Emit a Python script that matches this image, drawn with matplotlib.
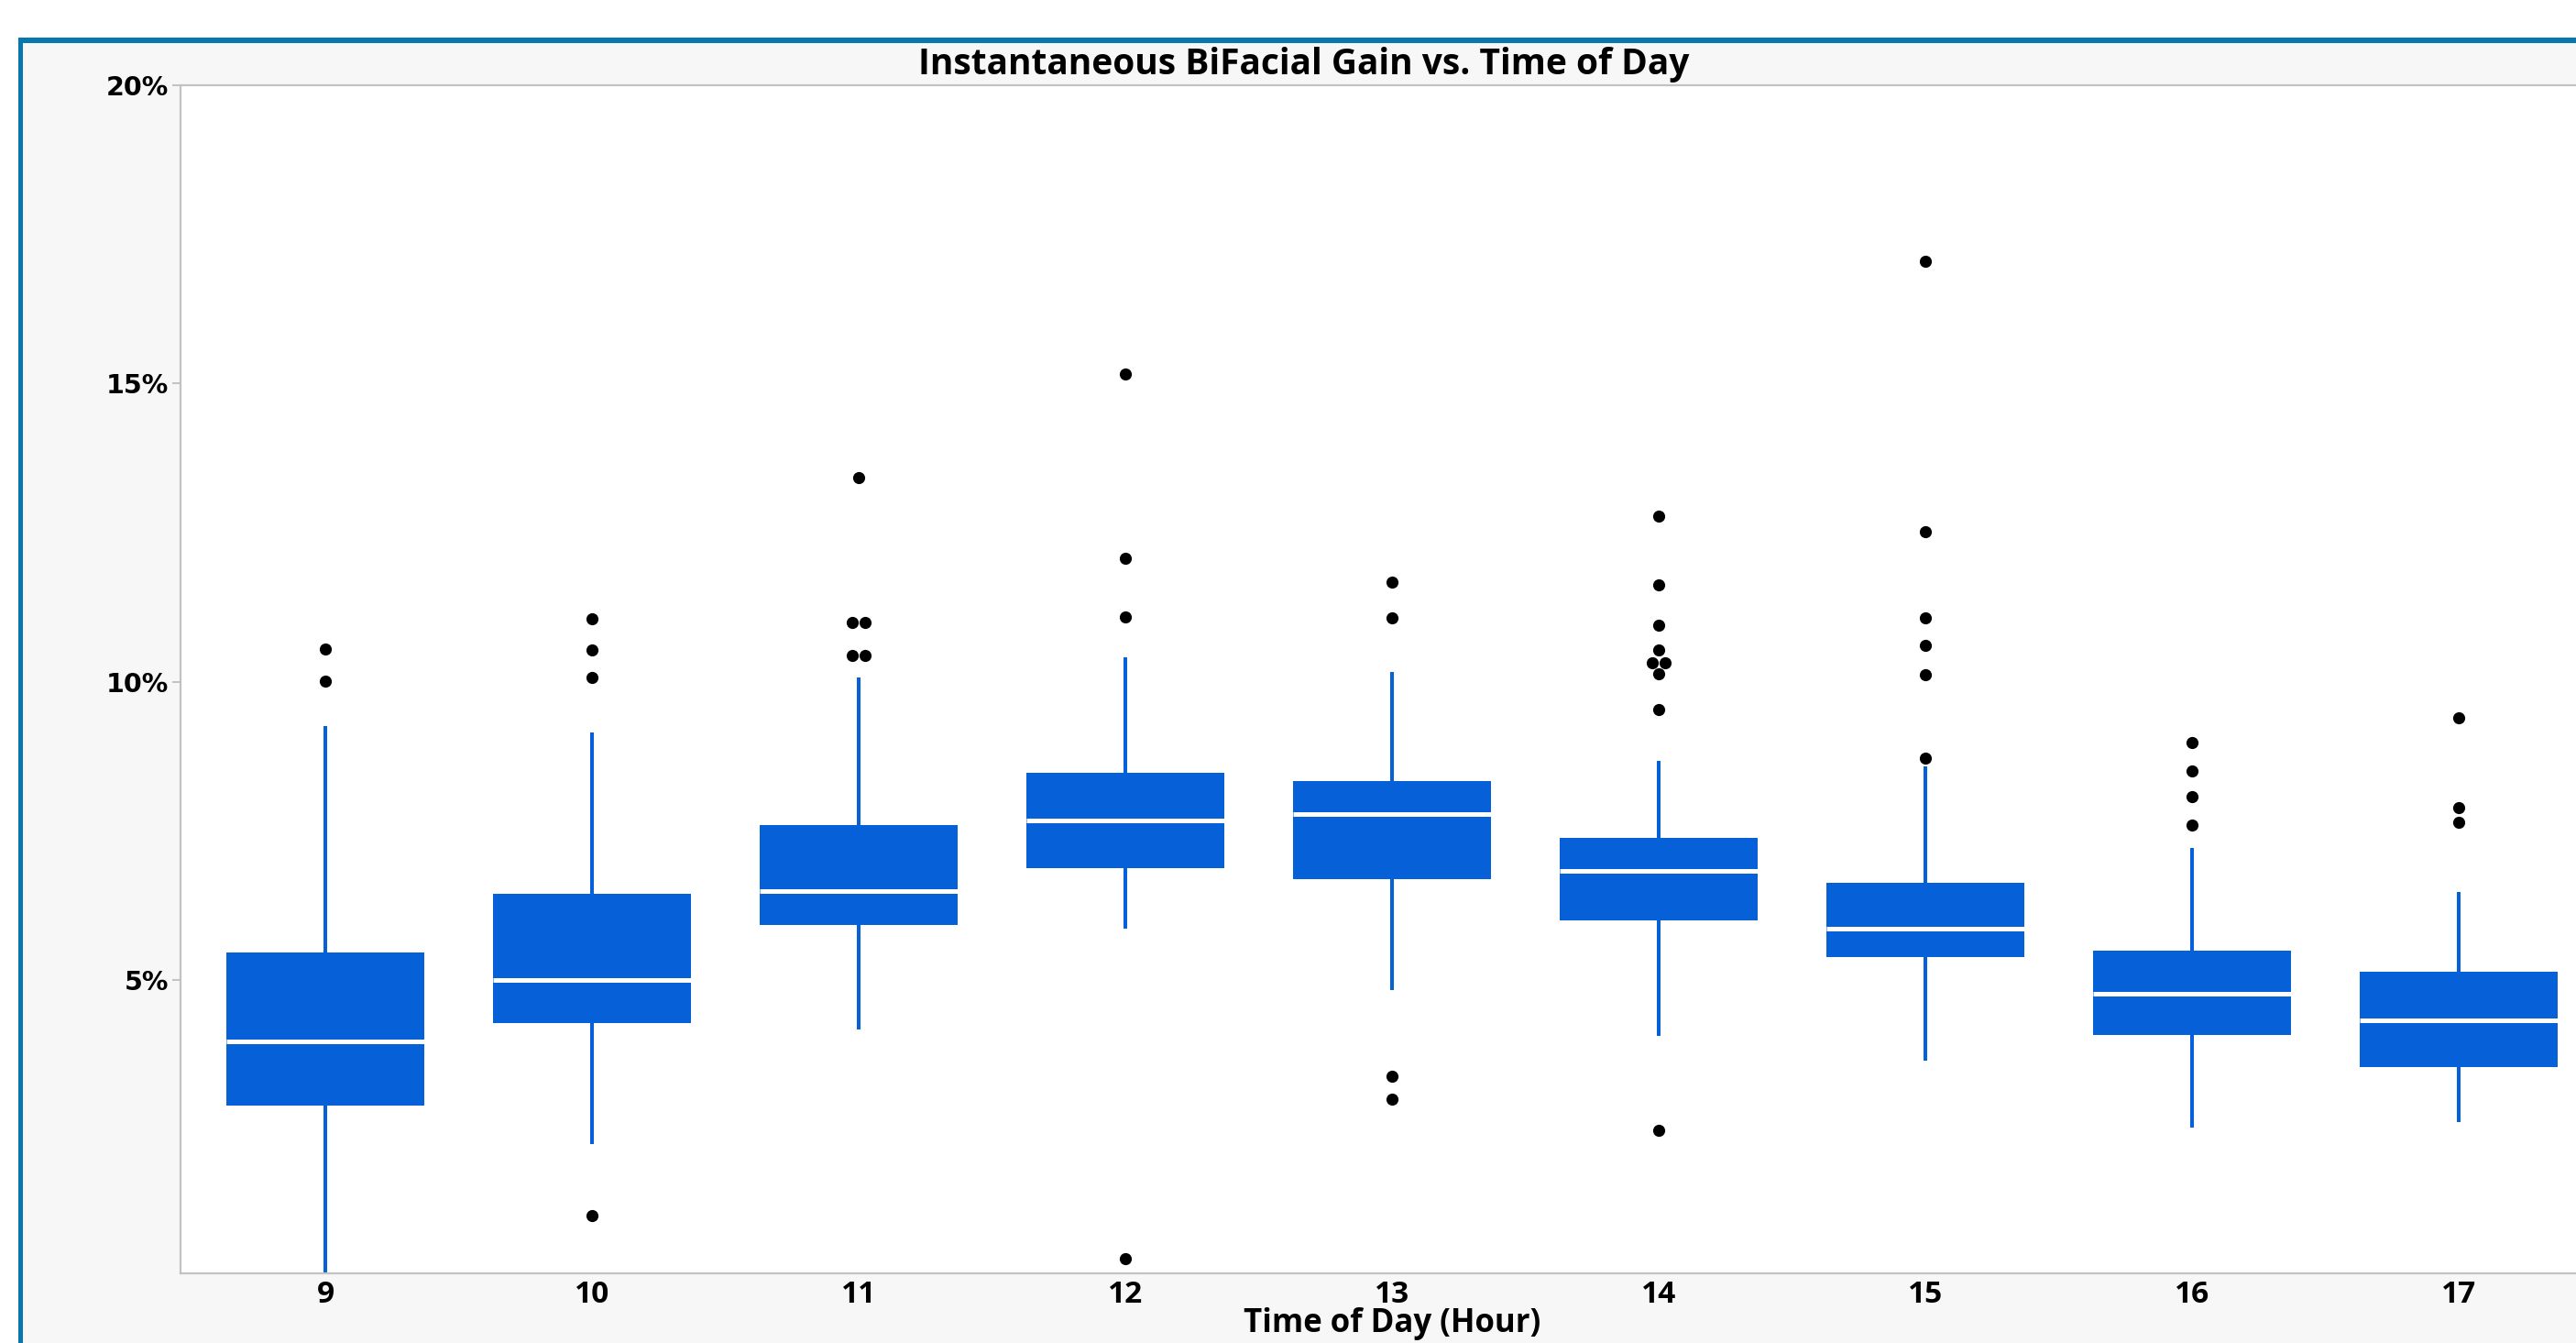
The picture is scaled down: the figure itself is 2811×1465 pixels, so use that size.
import matplotlib
matplotlib.use("Agg")
import matplotlib.pyplot as plt
from matplotlib.patches import Rectangle
import numpy as np

# ---------------------------------------------------------------------------
# data (bifacial gain in %)

hours   = [9, 10, 11, 12, 13, 14, 15, 16, 17]
q1      = [2.90, 4.28, 5.92, 6.88, 6.69, 6.00, 5.39, 4.09, 3.54]
medians = [3.97, 5.00, 6.50, 7.68, 7.79, 6.83, 5.86, 4.78, 4.33]
q3      = [5.46, 6.45, 7.60, 8.48, 8.34, 7.38, 6.63, 5.50, 5.15]
whislo  = [0.09, 2.26, 4.18, 5.86, 4.84, 4.07, 3.66, 2.53, 2.62]
whishi  = [9.26, 9.16, 10.07, 10.41, 10.16, 8.67, 8.58, 7.21, 6.48]
outliers = [
    [10.55, 10.01],
    [11.06, 10.54, 10.08, 1.05],
    [13.43, 11.00, 11.00, 10.45, 10.45],
    [15.16, 12.07, 11.09, 0.33],
    [11.67, 11.07, 3.39, 3.00],
    [12.78, 11.63, 10.95, 10.54, 10.32, 10.32, 10.13, 9.54, 2.48],
    [17.05, 12.52, 11.08, 10.61, 10.12, 8.72],
    [8.99, 8.51, 8.07, 7.60],
    [9.40, 7.89, 7.64],
]
yticks      = [5, 10, 15, 20]
ytick_labels = ['5%', '10%', '15%', '20%']

title  = 'Instantaneous BiFacial Gain vs. Time of Day'
xlabel = 'Time of Day (Hour)'

# ---------------------------------------------------------------------------
# style

BOX_BLUE   = '#0660D8'
FRAME_BLUE = '#0877AD'
PANEL_GREY = '#F7F7F7'
SPINE_GREY = '#C2C2C2'

W, H = 2811, 1465
fig = plt.figure(figsize=(W / 100, H / 100), dpi=100, facecolor='white')

# window frame + grey panel behind the plot
fig.patches.append(Rectangle((25 / W, 0), 1, 1 - 47 / H, transform=fig.transFigure,
                             facecolor=PANEL_GREY, edgecolor='none', zorder=-2))
fig.patches.append(Rectangle((20 / W, 1 - 47 / H), 1, 6 / H, transform=fig.transFigure,
                             facecolor=FRAME_BLUE, edgecolor='none', zorder=-1))
fig.patches.append(Rectangle((20 / W, 0), 5 / W, 1 - 41 / H, transform=fig.transFigure,
                             facecolor=FRAME_BLUE, edgecolor='none', zorder=-1))

ax = fig.add_axes([197 / W, 1 - 1389 / H, 1 - 197 / W, (1389 - 93) / H])
ax.set_facecolor('white')

stats = [dict(med=m, q1=a, q3=b, whislo=lo, whishi=hi, fliers=[])
         for m, a, b, lo, hi in zip(medians, q1, q3, whislo, whishi)]

ax.bxp(stats, positions=hours, widths=0.74, patch_artist=True,
       showcaps=False, showfliers=False,
       boxprops=dict(facecolor=BOX_BLUE, edgecolor=BOX_BLUE, linewidth=0),
       medianprops=dict(color='white', linewidth=3.6, solid_capstyle='butt'),
       whiskerprops=dict(color=BOX_BLUE, linewidth=2.9, solid_capstyle='butt'))

# outliers, with coinciding values nudged sideways
for h, pts in zip(hours, outliers):
    vals = np.array(pts)
    xs = np.full(len(vals), float(h))
    for v in np.unique(vals):
        idx = np.where(vals == v)[0]
        xs[idx] += (np.arange(len(idx)) - (len(idx) - 1) / 2) * 0.045
    ax.plot(xs, vals, 'o', color='black', markersize=9.5, markeredgewidth=0, zorder=4)

ax.set_xlim(8.457, 17.44)
ax.set_ylim(0.088, 20)

ax.set_yticks(yticks)
ax.set_yticklabels(ytick_labels, fontfamily='DejaVu Sans', fontweight='bold', fontsize=20.5)
ax.set_xticks(hours)
ax.set_xticklabels([str(h) for h in hours], fontfamily='Open Sans', fontweight='bold', fontsize=24)
ax.tick_params(axis='y', length=6.5, width=1.4, color=SPINE_GREY, pad=3)
ax.tick_params(axis='x', length=0, pad=5)

for side in ['left', 'top', 'bottom']:
    ax.spines[side].set_color(SPINE_GREY)
    ax.spines[side].set_linewidth(1.6)
ax.spines['right'].set_visible(False)

fig.text(1423 / W, 1 - 70 / H, title, ha='center', va='center',
         fontfamily='Open Sans', fontweight='bold', fontsize=28)
fig.text(1519 / W, 3 / H, xlabel, ha='center', va='bottom',
         fontfamily='Open Sans', fontweight='bold', fontsize=25)

fig.savefig('out.png', dpi=100, facecolor='white')
